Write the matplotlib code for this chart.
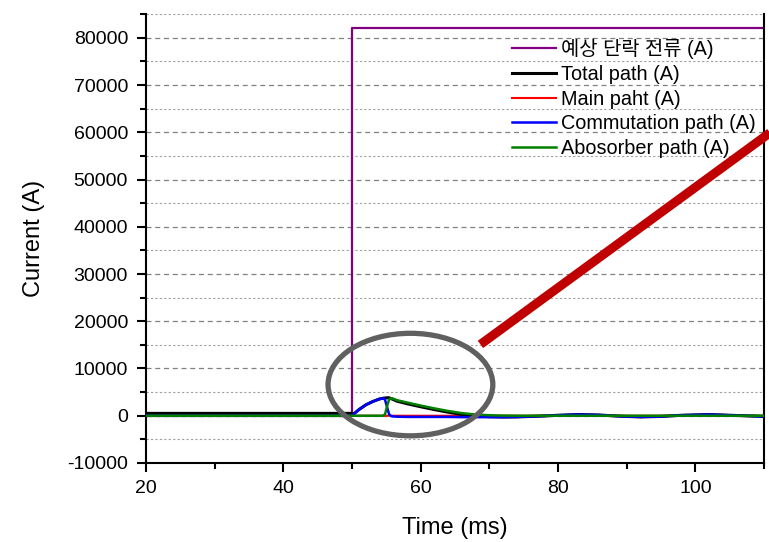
import matplotlib.pyplot as plt
from matplotlib.patches import Ellipse
from matplotlib.ticker import MultipleLocator

plt.rcParams['font.family'] = ['Liberation Sans', 'Noto Sans CJK KR']
plt.rcParams['axes.unicode_minus'] = False

# shared time axis (ms)
t = [20, 49.9, 50, 51, 52, 53, 54, 54.5, 54.8, 55.1, 55.4, 55.7, 56.0, 56.5, 58, 60, 62, 64,
     66, 68, 70, 72, 74, 78, 80, 83, 86, 89, 92, 95, 98, 102, 106, 110]
total_path = [500, 500, 100, 1300, 2300, 3000, 3550, 3700, 3750, 3800, 3800, 3600, 3450, 3100,
              2550, 1900, 1300, 750, 250, -50, -200, -270, -250, -50, 100, 250, 150, -100,
              -250, -150, 100, 250, 50, -150]
commutation_path = [0, 0, 0, 1300, 2300, 3000, 3550, 3700, 3400, 1800, 300, -100, -150, -200,
                    -250, -250, -250, -250, -300, -300, -300, -300, -250, -50, 100, 250, 150,
                    -100, -250, -150, 100, 250, 50, -150]
absorber_path = [0, 0, 0, 0, 0, 0, 0, 0, 300, 2000, 3500, 3700, 3600, 3300, 2800, 2150, 1550,
                 1000, 550, 250, 100, 30, 0, 0, 0, 0, 0, 0, 0, 0, 0, 0, 0, 0]

t_main = [20, 49.9, 50.2, 110]
main_path = [500, 500, 0, 0]

t_prosp = [20, 50, 50, 110]
prospective = [0, 0, 82000, 82000]

fig = plt.figure(figsize=(7.69, 5.42), dpi=100)
ax = fig.add_axes([0.19, 0.1458, 0.8035, 0.828])

ax.plot(t_prosp, prospective, color='#800080', lw=1.6, label='예상 단락 전류 (A)', zorder=2)
ax.plot(t, total_path, color='black', lw=2.2, label='Total path (A)', zorder=3)
ax.plot(t_main, main_path, color='red', lw=1.5, label='Main paht (A)', zorder=2.5)
ax.plot(t, commutation_path, color='blue', lw=1.8, label='Commutation path (A)', zorder=3.2)
ax.plot(t, absorber_path, color='green', lw=1.8, label='Abosorber path (A)', zorder=3.4)

# annotation marks
ax.add_patch(Ellipse((58.5, 6600), 24, 21700, fill=False, edgecolor='#606060', lw=3.8, zorder=5))
ax.plot([68.7, 112], [15100, 61100], color='#c00000', lw=6.5, solid_capstyle='butt',
        clip_on=False, zorder=5)

ax.set_xlim(20, 110)
ax.set_ylim(-10000, 85000)
ax.xaxis.set_major_locator(MultipleLocator(20))
ax.xaxis.set_minor_locator(MultipleLocator(10))
ax.yaxis.set_major_locator(MultipleLocator(10000))
ax.yaxis.set_minor_locator(MultipleLocator(5000))

ax.grid(axis='y', which='major', color='#808080', linestyle=(0, (4, 3)), lw=0.9)
ax.grid(axis='y', which='minor', color='#a0a0a0', linestyle=(0, (2, 2)), lw=0.8)

ax.spines['top'].set_visible(False)
for s in ('left', 'bottom', 'right'):
    ax.spines[s].set_linewidth(1.5)
ax.tick_params(which='major', direction='out', length=6.5, width=1.5, labelsize=14)
ax.tick_params(which='minor', direction='out', length=4, width=1.5)
ax.tick_params(axis='x', pad=6)
ax.tick_params(axis='y', pad=6.5, right=False)

ax.set_xlabel('Time (ms)', fontsize=17, labelpad=14)
ax.set_ylabel('Current (A)', fontsize=17, labelpad=16)

ax.legend(loc='upper right', bbox_to_anchor=(1.006, 0.972), frameon=False, fontsize=14.3,
          handlelength=2.2, handletextpad=0.25, labelspacing=0.29, borderaxespad=0.2)

fig.savefig('out.png', dpi=100)
